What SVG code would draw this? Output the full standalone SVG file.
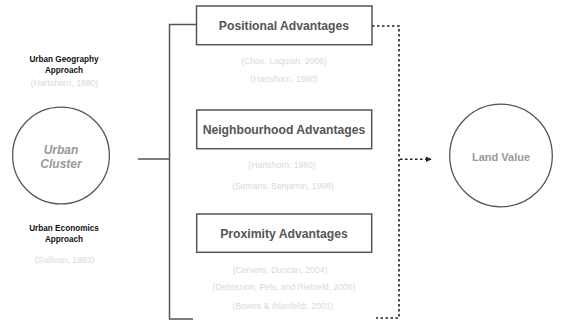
<svg xmlns="http://www.w3.org/2000/svg" width="565" height="329" viewBox="0 0 565 329">
<style>
text{font-family:"Liberation Sans",Arial,sans-serif;text-anchor:middle;dominant-baseline:central}
.box{fill:#fff;stroke:#555;stroke-width:1.5}
.circ{fill:#fff;stroke:#555;stroke-width:1.3}
.bt{font-size:12.2px;font-weight:bold;fill:#555}
.cite{font-size:8.6px;fill:#d9d9d9}
.lab{font-size:8.2px;font-weight:bold;fill:#111}
.solid{fill:none;stroke:#555;stroke-width:1.5}
.dot{fill:none;stroke:#222;stroke-width:1.6;stroke-dasharray:2.5 2.5}
</style>
<defs>
<marker id="ah" viewBox="0 0 10 10" refX="9" refY="5" markerWidth="6" markerHeight="6" markerUnits="userSpaceOnUse" orient="auto">
<path d="M0,0 L10,5 L0,10 Z" fill="#222"/>
</marker>
</defs>
<g id="connectors">
<path class="solid" d="M138,159 H170"/>
<path class="solid" d="M196,24.5 H169.5 V319 H193"/>
<path class="dot" d="M372,26 H399 V318 H376"/>
<path class="dot" d="M400,159.3 H431" marker-end="url(#ah)"/>
</g>
<g id="urban-cluster">
<circle class="circ" cx="61" cy="155.5" r="48.4"/>
<text x="61" y="149.5" style="font-size:12px;font-weight:bold;font-style:italic;fill:#999">Urban</text>
<text x="61" y="163.5" style="font-size:12px;font-weight:bold;font-style:italic;fill:#999">Cluster</text>
</g>
<g id="geography-label">
<text class="lab" x="64" y="59">Urban Geography</text>
<text class="lab" x="64" y="70">Approach</text>
<text class="cite" x="64.5" y="83.3">(Hartshorn, 1980)</text>
</g>
<g id="economics-label">
<text class="lab" x="64" y="228.3">Urban Economics</text>
<text class="lab" x="64" y="239.3">Approach</text>
<text class="cite" x="64.5" y="259.5">(Sullivan, 1993)</text>
</g>
<g id="positional">
<rect class="box" x="196.5" y="6" width="175.5" height="38.7"/>
<text class="bt" x="284" y="25.8">Positional Advantages</text>
<text class="cite" x="284" y="61">(Choe, Laquian, 2008)</text>
<text class="cite" x="284" y="78.7">(Hartshorn, 1980)</text>
</g>
<g id="neighbourhood">
<rect class="box" x="196.7" y="110" width="175" height="38.7"/>
<text class="bt" x="284" y="130">Neighbourhood Advantages</text>
<text class="cite" x="282" y="165">(Hartshorn, 1980)</text>
<text class="cite" x="283" y="186">(Sirmans, Benjamin, 1998)</text>
</g>
<g id="proximity">
<rect class="box" x="196.7" y="214" width="175" height="38.3"/>
<text class="bt" x="284" y="234">Proximity Advantages</text>
<text class="cite" x="280" y="270">(Cervero, Duncan, 2004)</text>
<text class="cite" x="284" y="286.7">(Debrezion, Pels, and Rietveld, 2006)</text>
<text class="cite" x="283" y="306">(Bowes &amp; Ihlanfeldt, 2001)</text>
</g>
<g id="land-value">
<circle class="circ" cx="501" cy="155.5" r="51.3"/>
<text x="501" y="156.5" style="font-size:11px;font-weight:bold;fill:#999">Land Value</text>
</g>
</svg>
